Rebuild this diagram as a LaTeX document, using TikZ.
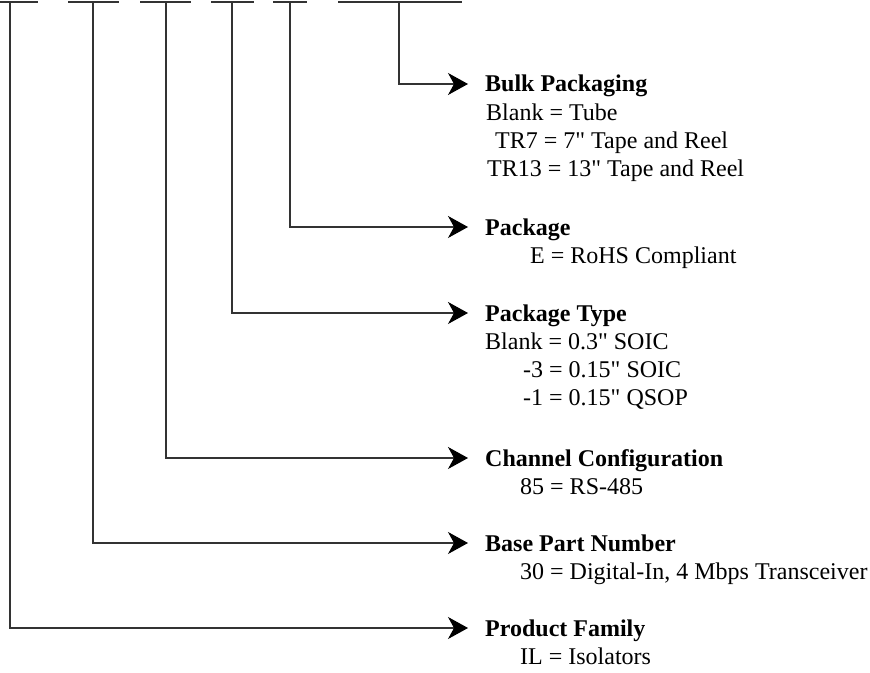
\documentclass[tikz,border=0pt]{standalone}
\usepackage{fontspec}
\setmainfont{Liberation Serif}
\usetikzlibrary{arrows.meta}
\newcommand{\partfont}{\fontsize{24bp}{28bp}\selectfont}
\newcommand{\inch}{\textquotedbl}
\tikzset{
  bar/.style={draw=black!80, line width=1.1bp},
  conn/.style={draw=black!80, line width=1.1bp, -{Stealth[length=20bp,width=22bp,inset=6bp,color=black]}, shorten >=17bp},
  head/.style={anchor=west, inner sep=0pt, font=\partfont\bfseries, text height=16bp, text depth=0pt},
  entry/.style={anchor=base west, inner sep=0pt, font=\partfont},
}
\begin{document}
\begin{tikzpicture}[x=1bp,y=-1bp]
\useasboundingbox (0,0) rectangle (870,673);
% part number fields
\draw[bar] (0,2) -- (38,2);
\draw[bar] (68,2) -- (119,2);
\draw[bar] (140,2) -- (191,2);
\draw[bar] (211,2) -- (254,2);
\draw[bar] (273,2) -- (307,2);
\draw[bar] (338,2) -- (462,2);
\coordinate (t1) at (10,2);
\coordinate (t2) at (93,2);
\coordinate (t3) at (166,2);
\coordinate (t4) at (232,2);
\coordinate (t5) at (290,2);
\coordinate (t6) at (399,2);
% headings
\node[head] (bulk) at (485,84) {Bulk Packaging};
\node[head] (pack) at (485,227) {Package};
\node[head] (ptype) at (485,313) {Package Type};
\node[head] (chan) at (485,458) {Channel Configuration};
\node[head] (base) at (485,543) {Base Part Number};
\node[head] (fam) at (485,628) {Product Family};
% options
\node[entry] (bulk1) at (486,120.3) {Blank = Tube};
\node[entry] (bulk2) at (495,148.6) {TR7 = 7\inch{} Tape and Reel};
\node[entry] (bulk3) at (487,176.9) {TR13 = 13\inch{} Tape and Reel};
\node[entry] (pack1) at (530,263.3) {E = RoHS Compliant};
\node[entry] (ptype1) at (485,349.3) {Blank = 0.3\inch{} SOIC};
\node[entry] (ptype2) at (523,377.6) {-3 = 0.15\inch{} SOIC};
\node[entry] (ptype3) at (523,405.9) {-1 = 0.15\inch{} QSOP};
\node[entry] (chan1) at (520,494.3) {85 = RS-485};
\node[entry] (base1) at (520,579.3) {30 = Digital-In, 4 Mbps Transceiver};
\node[entry] (fam1) at (520,664.3) {IL = Isolators};
% connectors
\draw[conn] (t6) |- (bulk.west);
\draw[conn] (t5) |- (pack.west);
\draw[conn] (t4) |- (ptype.west);
\draw[conn] (t3) |- (chan.west);
\draw[conn] (t2) |- (base.west);
\draw[conn] (t1) |- (fam.west);
\end{tikzpicture}
\end{document}
